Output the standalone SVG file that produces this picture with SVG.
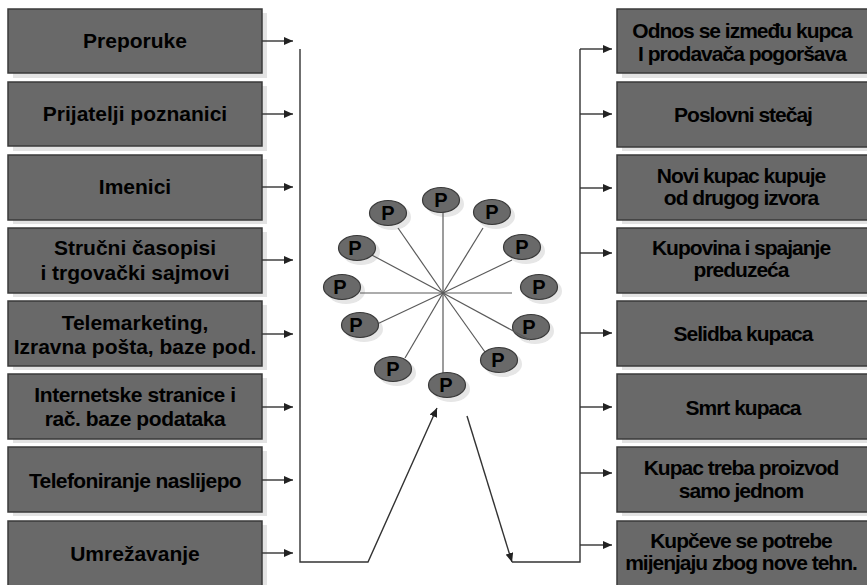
<svg xmlns="http://www.w3.org/2000/svg" width="867" height="585" viewBox="0 0 867 585">
<style>
.sh{fill:#e3e3e3}
.box{fill:#696969;stroke:#3a3a3a;stroke-width:1.5}
.t{font-family:"Liberation Sans",Arial,sans-serif;font-weight:bold;font-size:21px;fill:#000;text-anchor:middle}
.tr{letter-spacing:-1px}
.c{fill:none;stroke:#333;stroke-width:1.4}
.sp{fill:none;stroke:#5a5a5a;stroke-width:1.2}
.el{fill:#696969;stroke:#3a3a3a;stroke-width:1.2}
.esh{fill:#e6e6e6}
.p{font-family:"Liberation Sans",Arial,sans-serif;font-weight:bold;font-size:20px;fill:#000;text-anchor:middle}
</style>
<defs>
<marker id="ah" markerUnits="userSpaceOnUse" markerWidth="10" markerHeight="8" refX="9" refY="4" orient="auto">
<path d="M0,0 L9,4 L0,8 Z" fill="#222"/>
</marker>
</defs>
<rect width="867" height="585" fill="#fff"/>

<g id="left-1"><rect class="sh" x="13" y="13" width="254" height="65"/><rect class="box" x="8" y="9" width="254" height="64"/><text class="t" x="135" y="48">Preporuke</text></g>
<g id="left-2"><rect class="sh" x="13" y="86" width="254" height="65"/><rect class="box" x="8" y="82" width="254" height="64"/><text class="t" x="135" y="121">Prijatelji poznanici</text></g>
<g id="left-3"><rect class="sh" x="13" y="159" width="254" height="65"/><rect class="box" x="8" y="155" width="254" height="65"/><text class="t" x="135" y="194">Imenici</text></g>
<g id="left-4"><rect class="sh" x="13" y="232" width="254" height="65"/><rect class="box" x="8" y="228" width="254" height="65"/><text class="t" x="135" y="255">Stručni časopisi</text><text class="t" x="135" y="280">i trgovački  sajmovi</text></g>
<g id="left-5"><rect class="sh" x="13" y="305" width="254" height="65"/><rect class="box" x="8" y="301" width="254" height="65"/><text class="t" x="135" y="330">Telemarketing,</text><text class="t" x="135" y="354">Izravna pošta, baze pod.</text></g>
<g id="left-6"><rect class="sh" x="13" y="378" width="254" height="65"/><rect class="box" x="8" y="374" width="254" height="65"/><text class="t" x="135" y="402" style="letter-spacing:-0.4px">Internetske stranice i</text><text class="t" x="135" y="426" style="letter-spacing:-0.4px">rač. baze podataka</text></g>
<g id="left-7"><rect class="sh" x="13" y="451" width="254" height="65"/><rect class="box" x="8" y="447" width="254" height="65"/><text class="t" x="135" y="488" style="letter-spacing:-0.6px">Telefoniranje naslijepo</text></g>
<g id="left-8"><rect class="sh" x="13" y="525" width="254" height="70"/><rect class="box" x="8" y="521" width="254" height="70"/><text class="t" x="135" y="561">Umrežavanje</text></g>

<g id="right-1"><rect class="sh" x="622" y="13" width="252" height="65"/><rect class="box" x="617" y="9" width="256" height="64"/><text class="t tr" x="742" y="38">Odnos se između kupca</text><text class="t tr" x="742" y="61">I prodavača pogoršava</text></g>
<g id="right-2"><rect class="sh" x="622" y="86" width="252" height="65"/><rect class="box" x="617" y="82" width="256" height="65"/><text class="t tr" x="743" y="122">Poslovni stečaj</text></g>
<g id="right-3"><rect class="sh" x="622" y="159" width="252" height="65"/><rect class="box" x="617" y="155" width="256" height="65"/><text class="t tr" x="741" y="183">Novi kupac kupuje</text><text class="t tr" x="741" y="205">od drugog izvora</text></g>
<g id="right-4"><rect class="sh" x="622" y="232" width="252" height="65"/><rect class="box" x="617" y="228" width="256" height="65"/><text class="t tr" x="741" y="255">Kupovina i spajanje</text><text class="t tr" x="741" y="277">preduzeća</text></g>
<g id="right-5"><rect class="sh" x="622" y="305" width="252" height="65"/><rect class="box" x="617" y="301" width="256" height="65"/><text class="t tr" x="743" y="341">Selidba kupaca</text></g>
<g id="right-6"><rect class="sh" x="622" y="378" width="252" height="65"/><rect class="box" x="617" y="374" width="256" height="65"/><text class="t tr" x="743" y="415">Smrt kupaca</text></g>
<g id="right-7"><rect class="sh" x="622" y="451" width="252" height="65"/><rect class="box" x="617" y="447" width="256" height="65"/><text class="t tr" x="741" y="475">Kupac treba proizvod</text><text class="t tr" x="741" y="498">samo jednom</text></g>
<g id="right-8"><rect class="sh" x="622" y="525" width="252" height="70"/><rect class="box" x="617" y="521" width="256" height="70"/><text class="t tr" x="741" y="548">Kupčeve se potrebe</text><text class="t tr" x="741" y="570">mijenjaju zbog nove tehn.</text></g>

<g id="connectors">
<line class="c" x1="262" y1="41" x2="293" y2="41" marker-end="url(#ah)"/>
<line class="c" x1="262" y1="114" x2="293" y2="114" marker-end="url(#ah)"/>
<line class="c" x1="262" y1="187" x2="293" y2="187" marker-end="url(#ah)"/>
<line class="c" x1="262" y1="260" x2="293" y2="260" marker-end="url(#ah)"/>
<line class="c" x1="262" y1="334" x2="293" y2="334" marker-end="url(#ah)"/>
<line class="c" x1="262" y1="407" x2="293" y2="407" marker-end="url(#ah)"/>
<line class="c" x1="262" y1="480" x2="293" y2="480" marker-end="url(#ah)"/>
<line class="c" x1="262" y1="553" x2="293" y2="553" marker-end="url(#ah)"/>
<path class="c" d="M300,49 V562 H368 L437,408" marker-end="url(#ah)"/>
<path class="c" d="M467,416 L512,562"  marker-end="url(#ah)"/>
<path class="c" d="M512,562 H580 V49"/>
<line class="c" x1="580" y1="49" x2="612" y2="49" marker-end="url(#ah)"/>
<line class="c" x1="580" y1="114" x2="612" y2="114" marker-end="url(#ah)"/>
<line class="c" x1="580" y1="188" x2="612" y2="188" marker-end="url(#ah)"/>
<line class="c" x1="580" y1="253" x2="612" y2="253" marker-end="url(#ah)"/>
<line class="c" x1="580" y1="333" x2="612" y2="333" marker-end="url(#ah)"/>
<line class="c" x1="580" y1="407" x2="612" y2="407" marker-end="url(#ah)"/>
<line class="c" x1="580" y1="473" x2="612" y2="473" marker-end="url(#ah)"/>
<line class="c" x1="580" y1="545" x2="612" y2="545" marker-end="url(#ah)"/>
</g>

<g id="wheel-shadows">
<ellipse class="esh" cx="445" cy="204" rx="19" ry="13"/>
<ellipse class="esh" cx="392" cy="217" rx="19" ry="13"/>
<ellipse class="esh" cx="496" cy="216" rx="19" ry="13"/>
<ellipse class="esh" cx="361" cy="252" rx="19" ry="13"/>
<ellipse class="esh" cx="526" cy="251" rx="19" ry="13"/>
<ellipse class="esh" cx="346" cy="291" rx="19" ry="13"/>
<ellipse class="esh" cx="543" cy="291" rx="19" ry="13"/>
<ellipse class="esh" cx="364" cy="329" rx="19" ry="13"/>
<ellipse class="esh" cx="535" cy="331" rx="19" ry="13"/>
<ellipse class="esh" cx="397" cy="373" rx="19" ry="13"/>
<ellipse class="esh" cx="503" cy="364" rx="19" ry="13"/>
<ellipse class="esh" cx="451" cy="389" rx="19" ry="13"/>
</g>
<g id="spokes">
<line class="sp" x1="443" y1="293" x2="443" y2="212"/>
<line class="sp" x1="443" y1="293" x2="443" y2="373"/>
<line class="sp" x1="443" y1="293" x2="360" y2="293"/>
<line class="sp" x1="443" y1="293" x2="512" y2="293"/>
<line class="sp" x1="443" y1="293" x2="398" y2="228"/>
<line class="sp" x1="443" y1="293" x2="483" y2="228"/>
<line class="sp" x1="443" y1="293" x2="368" y2="253"/>
<line class="sp" x1="443" y1="293" x2="512" y2="260"/>
<line class="sp" x1="443" y1="293" x2="375" y2="325"/>
<line class="sp" x1="443" y1="293" x2="405" y2="358"/>
<line class="sp" x1="443" y1="293" x2="485" y2="352"/>
</g>
<g id="p-top"><ellipse class="el" cx="441" cy="200" rx="18.5" ry="12.5"/><text class="p" x="441" y="207">P</text></g>
<g id="p-ul"><ellipse class="el" cx="388" cy="213" rx="18.5" ry="12.5"/><text class="p" x="388" y="220">P</text></g>
<g id="p-ur"><ellipse class="el" cx="492" cy="212" rx="18.5" ry="12.5"/><text class="p" x="492" y="219">P</text></g>
<g id="p-lu"><ellipse class="el" cx="357" cy="248" rx="18.5" ry="12.5"/><text class="p" x="355" y="255">P</text></g>
<g id="p-ru"><ellipse class="el" cx="522" cy="247" rx="18.5" ry="12.5"/><text class="p" x="522" y="254">P</text></g>
<g id="p-l"><ellipse class="el" cx="342" cy="287" rx="18.5" ry="12.5"/><text class="p" x="340" y="294">P</text></g>
<g id="p-r"><ellipse class="el" cx="539" cy="287" rx="18.5" ry="12.5"/><text class="p" x="539" y="294">P</text></g>
<g id="p-ll"><ellipse class="el" cx="360" cy="325" rx="18.5" ry="12.5"/><text class="p" x="356" y="332">P</text></g>
<g id="p-rl"><ellipse class="el" cx="531" cy="327" rx="18.5" ry="12.5"/><text class="p" x="529" y="334">P</text></g>
<line class="sp" x1="443" y1="293" x2="530" y2="340"/>
<g id="p-bl"><ellipse class="el" cx="393" cy="369" rx="18.5" ry="12.5"/><text class="p" x="393" y="376">P</text></g>
<g id="p-br"><ellipse class="el" cx="499" cy="360" rx="18.5" ry="12.5"/><text class="p" x="498" y="367">P</text></g>
<g id="p-bottom"><ellipse class="el" cx="447" cy="385" rx="18.5" ry="12.5"/><text class="p" x="446" y="392">P</text></g>
</svg>
